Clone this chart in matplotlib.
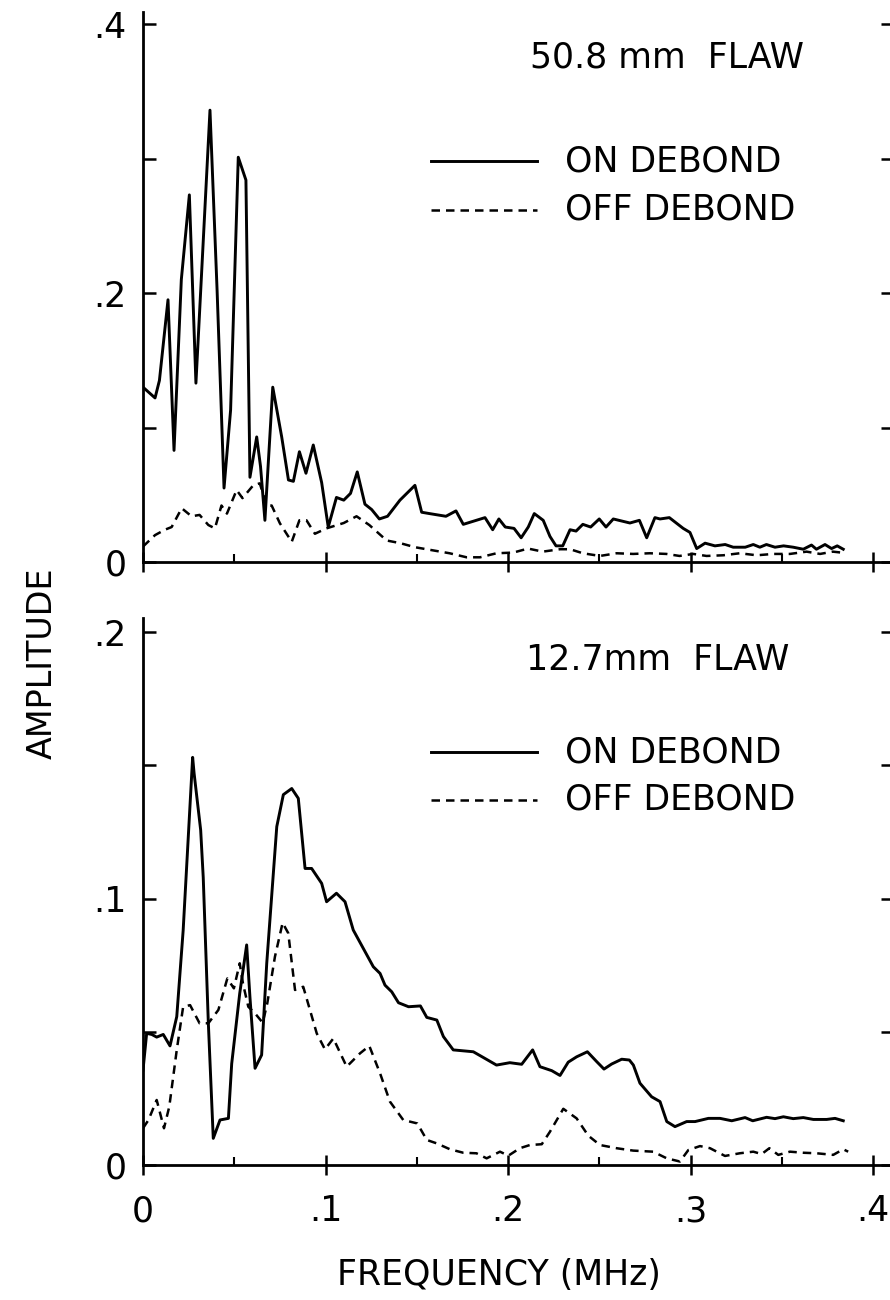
import numpy as np
import matplotlib
matplotlib.use("Agg")
import matplotlib.pyplot as plt
from matplotlib.ticker import FixedLocator

# ---------------------------------------------------------------
# spectra: frequency (MHz) and amplitude, one pair per trace
# ---------------------------------------------------------------

# 50.8 mm flaw, on debond
f_large_on = [0.0, 0.0066, 0.009, 0.0137, 0.017, 0.021, 0.0254, 0.029, 0.032, 0.0367,
              0.0406, 0.0444, 0.048, 0.0522, 0.0564, 0.0586, 0.0623, 0.0644, 0.0668, 0.0711,
              0.076, 0.0797, 0.0824, 0.0857, 0.0893, 0.0933, 0.0979, 0.1015, 0.106, 0.110,
              0.1137, 0.1174, 0.1216, 0.1253, 0.1295, 0.134, 0.1408, 0.149, 0.1527, 0.157,
              0.166, 0.1715, 0.1755, 0.1874, 0.1916, 0.1950, 0.1985, 0.2033, 0.2072, 0.2111,
              0.2144, 0.2193, 0.223, 0.2263, 0.2300, 0.234, 0.2373, 0.241, 0.2453, 0.250,
              0.2537, 0.2577, 0.2668, 0.272, 0.276, 0.2805, 0.2833, 0.2884, 0.296, 0.2997,
              0.3034, 0.308, 0.3134, 0.319, 0.3234, 0.330, 0.3344, 0.338, 0.3416, 0.3463,
              0.351, 0.3563, 0.3618, 0.3663, 0.369, 0.3737, 0.3773, 0.3804, 0.3837]
a_large_on = [0.130, 0.122, 0.135, 0.195, 0.083, 0.210, 0.273, 0.133, 0.212, 0.336,
              0.202, 0.055, 0.113, 0.301, 0.284, 0.063, 0.093, 0.071, 0.031, 0.130,
              0.093, 0.061, 0.060, 0.082, 0.066, 0.087, 0.059, 0.026, 0.048, 0.046,
              0.051, 0.067, 0.043, 0.039, 0.032, 0.034, 0.046, 0.057, 0.037, 0.036,
              0.034, 0.038, 0.028, 0.033, 0.024, 0.032, 0.026, 0.025, 0.018, 0.026,
              0.036, 0.031, 0.019, 0.012, 0.012, 0.024, 0.023, 0.028, 0.026, 0.032,
              0.026, 0.032, 0.029, 0.031, 0.018, 0.033, 0.032, 0.033, 0.025, 0.022,
              0.010, 0.014, 0.012, 0.013, 0.011, 0.011, 0.013, 0.011, 0.013, 0.011,
              0.012, 0.011, 0.0095, 0.0126, 0.0095, 0.013, 0.010, 0.012, 0.0095]

# 50.8 mm flaw, off debond
f_large_off = [0.0, 0.0066, 0.012, 0.0157, 0.0212, 0.0266, 0.031, 0.0358, 0.0394, 0.043,
               0.046, 0.0513, 0.0545, 0.0604, 0.064, 0.0677, 0.0705, 0.075, 0.0815, 0.0857,
               0.0896, 0.0942, 0.1005, 0.110, 0.117, 0.124, 0.1335, 0.141, 0.149, 0.1553,
               0.168, 0.1773, 0.1847, 0.1937, 0.2029, 0.211, 0.219, 0.2285, 0.234, 0.241,
               0.2504, 0.2595, 0.2686, 0.2777, 0.2868, 0.294, 0.3015, 0.3088, 0.318, 0.327,
               0.3363, 0.3454, 0.3545, 0.3636, 0.371, 0.378, 0.3827]
a_large_off = [0.0115, 0.020, 0.024, 0.026, 0.040, 0.034, 0.035, 0.0275, 0.025, 0.042,
               0.036, 0.0535, 0.0475, 0.057, 0.0585, 0.042, 0.042, 0.0288, 0.015, 0.031,
               0.031, 0.021, 0.025, 0.029, 0.034, 0.0275, 0.016, 0.014, 0.011, 0.0095,
               0.0065, 0.0035, 0.0035, 0.0065, 0.007, 0.010, 0.0077, 0.0095, 0.0095, 0.0065,
               0.0045, 0.0065, 0.006, 0.0065, 0.006, 0.0045, 0.006, 0.0045, 0.005, 0.0065,
               0.005, 0.006, 0.006, 0.0077, 0.006, 0.0077, 0.007]

# 12.7 mm flaw, on debond
f_small_on = [0.0, 0.002, 0.0048, 0.0075, 0.0111, 0.0148, 0.0185, 0.022, 0.0272, 0.028,
              0.0316, 0.033, 0.0358, 0.0385, 0.0422, 0.0468, 0.0486, 0.053, 0.0568, 0.0586,
              0.0614, 0.065, 0.0678, 0.0733, 0.0769, 0.0815, 0.0851, 0.0888, 0.0924, 0.0979,
              0.1006, 0.106, 0.1107, 0.1152, 0.1262, 0.1299, 0.1326, 0.1363, 0.140, 0.1455,
              0.152, 0.1555, 0.161, 0.1646, 0.170, 0.181, 0.1866, 0.1937, 0.201, 0.2075,
              0.2135, 0.2175, 0.224, 0.2285, 0.233, 0.2376, 0.2435, 0.2486, 0.2526, 0.2568,
              0.2623, 0.2665, 0.2687, 0.2723, 0.2787, 0.2833, 0.287, 0.2915, 0.2979, 0.3025,
              0.3098, 0.3162, 0.3226, 0.3299, 0.3341, 0.3417, 0.3463, 0.3509, 0.3563, 0.3618,
              0.3673, 0.3746, 0.3792, 0.3837]
a_small_on = [0.0356, 0.0494, 0.049, 0.048, 0.049, 0.0447, 0.0557, 0.088, 0.153, 0.147,
              0.1257, 0.108, 0.0533, 0.010, 0.0169, 0.0175, 0.038, 0.0644, 0.0826, 0.063,
              0.0363, 0.0413, 0.0757, 0.127, 0.139, 0.1413, 0.1376, 0.1113, 0.1113, 0.1057,
              0.0988, 0.102, 0.0988, 0.0882, 0.0744, 0.0719, 0.0675, 0.065, 0.0609, 0.0594,
              0.0597, 0.0554, 0.0544, 0.0482, 0.0432, 0.0425, 0.0403, 0.0375, 0.0384, 0.0378,
              0.0432, 0.0369, 0.0354, 0.0336, 0.0386, 0.0406, 0.0425, 0.0388, 0.036, 0.0379,
              0.0397, 0.0394, 0.0375, 0.0307, 0.0256, 0.0238, 0.0163, 0.0144, 0.0163, 0.0163,
              0.0175, 0.0175, 0.0166, 0.0178, 0.0166, 0.0179, 0.0174, 0.0181, 0.0174, 0.0178,
              0.0171, 0.0171, 0.0175, 0.0166]

# 12.7 mm flaw, off debond
f_small_off = [0.0, 0.003, 0.0075, 0.0115, 0.0144, 0.0185, 0.022, 0.0258, 0.031, 0.0358,
               0.0413, 0.0462, 0.0498, 0.053, 0.0548, 0.0577, 0.0614, 0.0656, 0.0681, 0.0723,
               0.0765, 0.0796, 0.0833, 0.0878, 0.0952, 0.0997, 0.1043, 0.1116, 0.1189, 0.124,
               0.1299, 0.1353, 0.1426, 0.1503, 0.1555, 0.161, 0.1682, 0.1755, 0.1827, 0.1883,
               0.1956, 0.2002, 0.2065, 0.212, 0.2185, 0.223, 0.2303, 0.2376, 0.244, 0.2504,
               0.2595, 0.2686, 0.2795, 0.287, 0.2942, 0.2988, 0.3052, 0.3107, 0.3189, 0.327,
               0.3344, 0.339, 0.3432, 0.3481, 0.3545, 0.3618, 0.3691, 0.3782, 0.3837, 0.3864]
a_small_off = [0.0138, 0.0169, 0.0244, 0.0138, 0.0219, 0.0432, 0.0594, 0.060, 0.0532, 0.0532,
               0.0582, 0.070, 0.0663, 0.0757, 0.068, 0.0594, 0.0569, 0.0534, 0.0607, 0.0782,
               0.0909, 0.087, 0.0657, 0.0669, 0.0494, 0.0434, 0.0475, 0.0369, 0.0419, 0.0447,
               0.0344, 0.0238, 0.0169, 0.0156, 0.0094, 0.0081, 0.0059, 0.0046, 0.0044, 0.0025,
               0.005, 0.0035, 0.0063, 0.0075, 0.0078, 0.0125, 0.0211, 0.0175, 0.0110, 0.0075,
               0.0063, 0.0054, 0.005, 0.0025, 0.0013, 0.0056, 0.0071, 0.0063, 0.0034, 0.0044,
               0.005, 0.0041, 0.0063, 0.0038, 0.005, 0.0046, 0.0044, 0.0038, 0.0059, 0.005]

x_ticks = [0.0, 0.1, 0.2, 0.3, 0.4]
x_labels = ["0", ".1", ".2", ".3", ".4"]
x_minor = [0.05, 0.15, 0.25, 0.35]

top_yticks = [0.0, 0.2, 0.4]
top_ylabels = ["0", ".2", ".4"]
top_yminor = [0.1, 0.3]

bot_yticks = [0.0, 0.1, 0.2]
bot_ylabels = ["0", ".1", ".2"]
bot_yminor = [0.05, 0.15]

FS = 25
DASH = (0, (3.4, 2.4))
LW = 2.1
LW_DASH = 1.8

plt.rcParams["font.family"] = ["DejaVu Sans"]

fig = plt.figure(figsize=(8.9, 13), dpi=100)

# axes boxes in figure pixels: left 143, right ~893 (just past the edge)
W, H = 890.0, 1300.0
left = 143 / W
width = (893 - 143) / W
ax1 = fig.add_axes([left, (H - 562) / H, width, 550 / H])
ax2 = fig.add_axes([left, (H - 1165) / H, width, 547 / H])

xmax = (893 - 143) / 1825.0


def style_axes(ax, ymax, yt, yl, ym, show_xlabels):
    ax.set_xlim(0, xmax)
    ax.set_ylim(0, ymax)
    ax.spines["top"].set_visible(False)
    for s in ("left", "bottom", "right"):
        ax.spines[s].set_linewidth(2.0)
    ax.xaxis.set_major_locator(FixedLocator(x_ticks))
    ax.xaxis.set_minor_locator(FixedLocator(x_minor))
    ax.yaxis.set_major_locator(FixedLocator(yt))
    ax.yaxis.set_minor_locator(FixedLocator(ym))
    ax.set_yticklabels(yl)
    if show_xlabels:
        ax.set_xticklabels(x_labels)
    else:
        ax.set_xticklabels([])
    ax.tick_params(axis="x", which="major", direction="inout", length=14,
                   width=1.8, labelsize=FS, pad=14)
    ax.tick_params(axis="x", which="minor", direction="in", length=6, width=1.5)
    ax.tick_params(axis="y", which="both", direction="in", length=9, width=1.8,
                   labelsize=FS, pad=12, right=True)


# upper panel: 50.8 mm flaw
ax1.plot(f_large_on, a_large_on, color="black", lw=LW)
ax1.plot(f_large_off, a_large_off, color="black", lw=LW_DASH, linestyle=DASH)
style_axes(ax1, 0.409, top_yticks, top_ylabels, top_yminor, False)

ax1.text(0.212, 0.375, "50.8 mm  FLAW", fontsize=FS, va="center", ha="left")
ax1.plot([0.158, 0.216], [0.298, 0.298], color="black", lw=LW)
ax1.plot([0.158, 0.216], [0.262, 0.262], color="black", lw=LW_DASH, linestyle=DASH)
ax1.text(0.231, 0.298, "ON DEBOND", fontsize=FS, va="center", ha="left")
ax1.text(0.231, 0.262, "OFF DEBOND", fontsize=FS, va="center", ha="left")

# lower panel: 12.7 mm flaw
ax2.plot(f_small_on, a_small_on, color="black", lw=LW)
ax2.plot(f_small_off, a_small_off, color="black", lw=LW_DASH, linestyle=DASH)
style_axes(ax2, 0.2053, bot_yticks, bot_ylabels, bot_yminor, True)

ax2.text(0.210, 0.1895, "12.7mm  FLAW", fontsize=FS, va="center", ha="left")
ax2.plot([0.158, 0.216], [0.155, 0.155], color="black", lw=LW)
ax2.plot([0.158, 0.216], [0.137, 0.137], color="black", lw=LW_DASH, linestyle=DASH)
ax2.text(0.231, 0.155, "ON DEBOND", fontsize=FS, va="center", ha="left")
ax2.text(0.231, 0.137, "OFF DEBOND", fontsize=FS, va="center", ha="left")

fig.text(499 / W, 1 - 1275 / H, "FREQUENCY (MHz)", fontsize=FS,
         ha="center", va="center")
fig.text(42 / W, 1 - 663 / H, "AMPLITUDE", fontsize=24, rotation=90,
         ha="center", va="center")

fig.savefig("out.png", dpi=100)
